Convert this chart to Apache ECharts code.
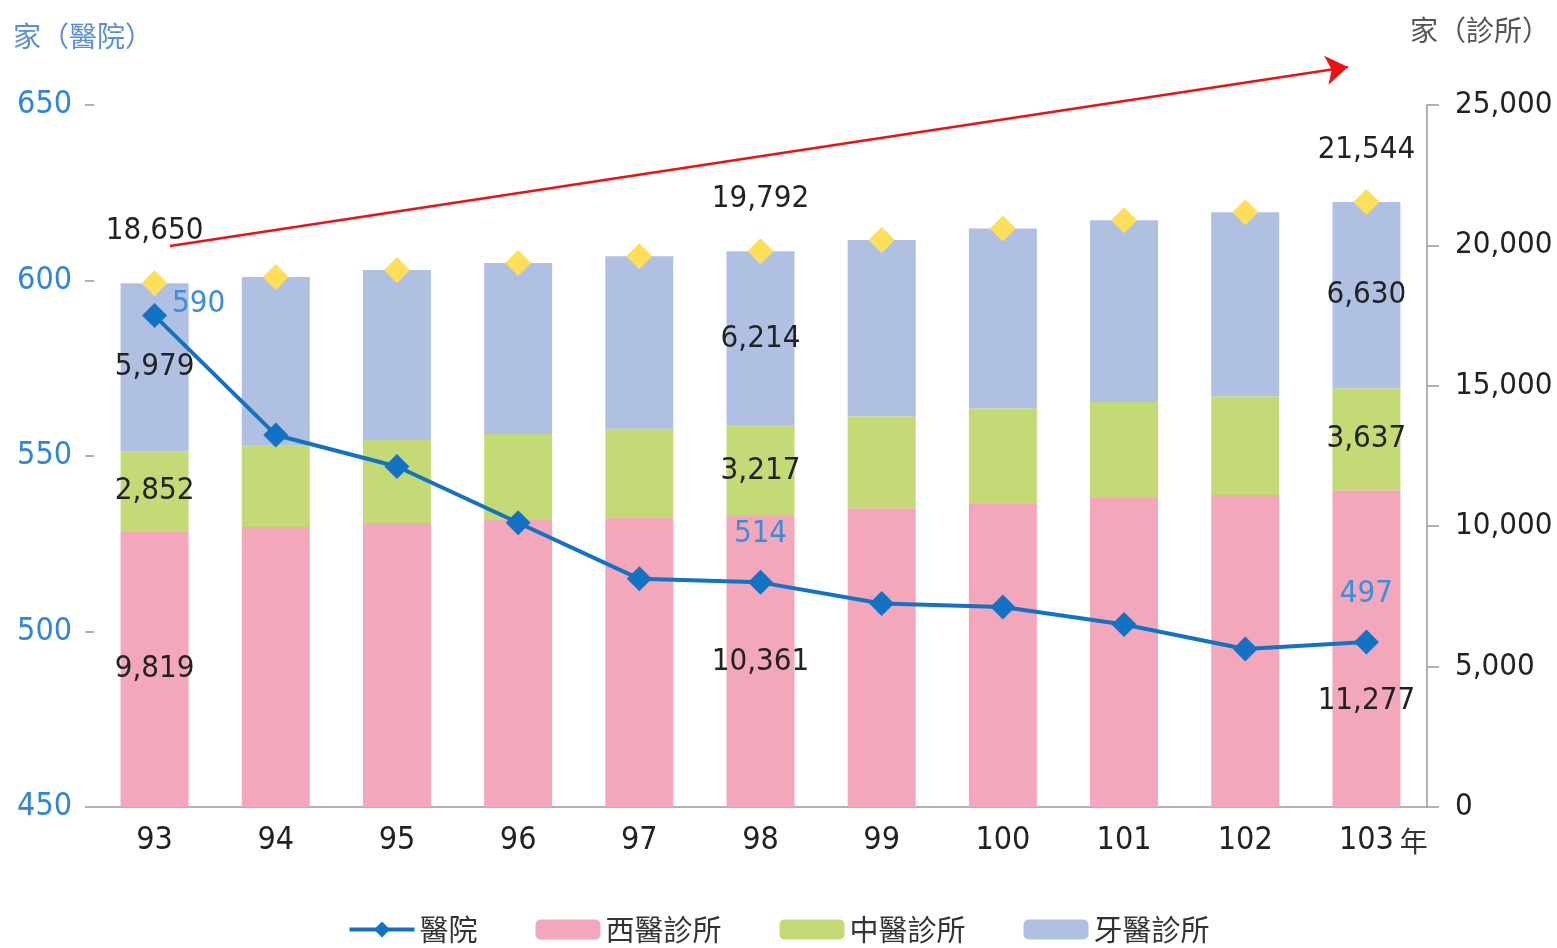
<!DOCTYPE html>
<html>
<head>
<meta charset="utf-8">
<script src="https://cdn.jsdelivr.net/npm/echarts@6/dist/echarts.min.js"></script>
<style>
  html, body { margin: 0; padding: 0; background: #fff; }
  #chart { width: 1557px; height: 948px; }
</style>
</head>
<body>
<div id="chart"></div>
<script>
// 年度
const years = ['93', '94', '95', '96', '97', '98', '99', '100', '101', '102', '103'];
// 醫院 (左軸)
const hospitals = [590, 556, 547, 531, 515, 514, 508, 507, 502, 495, 497];
// 診所 (右軸)
const western = [9819, 9972, 10110, 10220, 10320, 10361, 10640, 10820, 11000, 11110, 11277];
const chinese = [2852, 2890, 2960, 3060, 3150, 3217, 3280, 3380, 3420, 3520, 3637];
const dental = [5979, 6010, 6050, 6090, 6140, 6214, 6270, 6400, 6480, 6550, 6630];
const clinicTotals = [18650, 18872, 19120, 19370, 19610, 19792, 20190, 20600, 20900, 21180, 21544];
const leftTicks = [450, 500, 550, 600, 650];
const rightTicks = [0, 5000, 10000, 15000, 20000, 25000];
// 只標示這幾年的數值
const labeledIdx = [0, 5, 10];

const FONT = "'Liberation Sans Narrow', 'DejaVu Sans Condensed', sans-serif";
const CJK = "'Noto Sans CJK TC', sans-serif";
const fmt = v => Number(v).toLocaleString('en-US');

function barLabel(p) {
  return labeledIdx.includes(p.dataIndex) ? fmt(p.value) : '';
}

const chart = echarts.init(document.getElementById('chart'));

const hospitalData = hospitals.map((v, i) => {
  if (i === 0) return { value: v, label: { show: true, position: 'right', offset: [0, -12] } };
  if (labeledIdx.includes(i)) return { value: v, label: { show: true, position: 'top', distance: 20 } };
  return v;
});

const westernData = western.map((v, i) => {
  if (i === 10) return { value: v, label: { offset: [0, 52] } };
  return v;
});

chart.setOption({
  animation: false,
  grid: { left: 94, right: 130, top: 105, bottom: 141, outerBoundsMode: 'none' },
  legend: {
    top: 910,
    left: 'center',
    itemWidth: 65,
    itemHeight: 20,
    itemGap: 58,
    lineStyle: { width: 4 },
    textStyle: { fontFamily: CJK, fontSize: 29, color: '#333' },
    data: ['醫院', '西醫診所', '中醫診所', '牙醫診所']
  },
  xAxis: {
    type: 'category',
    data: years,
    name: '年',
    nameLocation: 'end',
    nameGap: -28,
    nameTextStyle: { fontFamily: CJK, fontSize: 28, color: '#333', verticalAlign: 'top', padding: [20, 0, 0, 0] },
    axisLine: { lineStyle: { color: '#999', width: 1.5 } },
    axisTick: { length: 11, lineStyle: { color: '#999', width: 1.5 } },
    axisLabel: { fontFamily: FONT, fontSize: 32, color: '#222', margin: 18 }
  },
  yAxis: [
    {
      type: 'value',
      min: leftTicks[0],
      max: leftTicks[leftTicks.length - 1],
      interval: 50,
      position: 'left',
      name: '家（醫院）',
      nameGap: 55,
      nameTextStyle: { fontFamily: CJK, fontSize: 28, color: '#5b8ed0', align: 'center', padding: [0, 22, 0, 0] },
      axisLine: { show: false },
      axisTick: { show: true, length: 9, lineStyle: { color: '#999', width: 1.5 } },
      axisLabel: { fontFamily: FONT, fontSize: 32, color: '#2f86d4', margin: 22 },
      splitLine: { show: false }
    },
    {
      type: 'value',
      min: rightTicks[0],
      max: rightTicks[rightTicks.length - 1],
      interval: 5000,
      position: 'right',
      name: '家（診所）',
      nameGap: 61,
      nameTextStyle: { fontFamily: CJK, fontSize: 28, color: '#555', align: 'center', padding: [0, 0, 0, 106] },
      axisLine: { show: true, lineStyle: { color: '#999', width: 1.5 } },
      axisTick: { show: true, length: 12, lineStyle: { color: '#999', width: 1.5 } },
      axisLabel: { fontFamily: FONT, fontSize: 31, color: '#222', margin: 28, formatter: v => fmt(v) },
      splitLine: { show: false }
    }
  ],
  series: [
    {
      name: '西醫診所',
      type: 'bar',
      stack: 'clinic',
      yAxisIndex: 1,
      barWidth: 68,
      itemStyle: { color: '#f2a7bb' },
      label: { show: true, position: 'inside', formatter: barLabel, fontFamily: FONT, fontSize: 31, color: '#222' },
      data: westernData
    },
    {
      name: '中醫診所',
      type: 'bar',
      stack: 'clinic',
      yAxisIndex: 1,
      barWidth: 68,
      itemStyle: { color: '#c3da76' },
      label: { show: true, position: 'inside', formatter: barLabel, fontFamily: FONT, fontSize: 31, color: '#222' },
      data: chinese
    },
    {
      name: '牙醫診所',
      type: 'bar',
      stack: 'clinic',
      yAxisIndex: 1,
      barWidth: 68,
      itemStyle: { color: '#afc0e2' },
      label: { show: true, position: 'inside', formatter: barLabel, fontFamily: FONT, fontSize: 31, color: '#222' },
      data: dental
    },
    {
      name: '診所合計',
      type: 'scatter',
      yAxisIndex: 1,
      symbol: 'diamond',
      symbolSize: 26,
      z: 4,
      itemStyle: { color: '#ffdf5a', opacity: 1 },
      label: { show: true, position: 'top', distance: 24, formatter: barLabel, fontFamily: FONT, fontSize: 31, color: '#222' },
      data: clinicTotals,
      markLine: {
        silent: true,
        symbol: ['none', 'arrow'],
        symbolSize: 22,
        label: { show: false },
        lineStyle: { color: '#ee1111', width: 2.5, type: 'solid', opacity: 1 },
        data: [[{ x: 170, y: 246 }, { x: 1348, y: 67 }]]
      }
    },
    {
      name: '醫院',
      type: 'line',
      yAxisIndex: 0,
      symbol: 'diamond',
      symbolSize: 25,
      z: 5,
      lineStyle: { color: '#1372c4', width: 4 },
      itemStyle: { color: '#1372c4' },
      label: { show: false, fontFamily: FONT, fontSize: 31, color: '#3a8fdc' },
      data: hospitalData
    }
  ]
});
</script>
</body>
</html>
